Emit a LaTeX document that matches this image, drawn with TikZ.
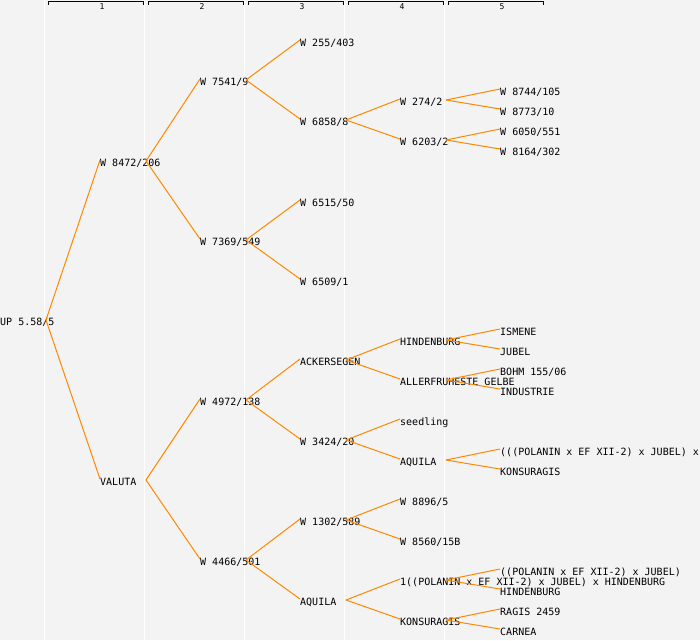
\documentclass[tikz,border=0pt]{standalone}
\usepackage{fontspec}
\setmonofont{DejaVu Sans Mono}
\definecolor{bg}{HTML}{F3F3F3}
\definecolor{edgeor}{RGB}{255,136,0}
\begin{document}
\begin{tikzpicture}[x=1pt,y=-1pt,
  lbl/.style={anchor=west,inner sep=0pt,text height=8pt,text depth=0pt,font=\ttfamily\fontsize{10}{10}\selectfont,text=black},
  hdr/.style={inner sep=0pt,font=\ttfamily\fontsize{8}{8}\selectfont,text=black},
  edge/.style={draw=edgeor,line width=1pt},
  colline/.style={draw=white,line width=1.2pt},
  brk/.style={draw=black,line width=0.9pt}]
\fill[bg] (0,0) rectangle (700,640);
\useasboundingbox (0,0) rectangle (700,640);
% column separators
\foreach \cx in {44.5,144.5,244.5,344.5,444.5}{\draw[colline] (\cx,0) -- (\cx,640);}
% column headers
\foreach \i/\bx in {1/48,2/148,3/248,4/348,5/448}{
  \draw[brk] (\bx,4.5) -- (\bx,1.5) -- (\bx+95,1.5) -- (\bx+95,4.5);
  \node[hdr] (h\i) at (\bx+54,6.5) {\i};
}
% nodes
\node[lbl] (r) at (0,321) {UP 5.58/5};
\node[lbl] (a) at (100,162) {W 8472/206};
\node[lbl] (b) at (100,481) {VALUTA};
\node[lbl] (aa) at (200,81) {W 7541/9};
\node[lbl] (ab) at (200,241) {W 7369/549};
\node[lbl] (ba) at (200,401) {W 4972/138};
\node[lbl] (bb) at (200,561) {W 4466/501};
\node[lbl] (aaa) at (300,42) {W 255/403};
\node[lbl] (aab) at (300,121) {W 6858/8};
\node[lbl] (aba) at (300,202) {W 6515/50};
\node[lbl] (abb) at (300,281) {W 6509/1};
\node[lbl] (baa) at (300,361) {ACKERSEGEN};
\node[lbl] (bab) at (300,441) {W 3424/20};
\node[lbl] (bba) at (300,521) {W 1302/589};
\node[lbl] (bbb) at (300,601) {AQUILA};
\node[lbl] (aaba) at (400,101) {W 274/2};
\node[lbl] (aabb) at (400,141) {W 6203/2};
\node[lbl] (baaa) at (400,341) {HINDENBURG};
\node[lbl] (baab) at (400,381) {ALLERFRUHESTE GELBE};
\node[lbl] (baba) at (400,421) {seedling};
\node[lbl] (babb) at (400,461) {AQUILA};
\node[lbl] (bbaa) at (400,501) {W 8896/5};
\node[lbl] (bbab) at (400,541) {W 8560/15B};
\node[lbl] (bbba) at (400,581) {1((POLANIN x EF XII-2) x JUBEL) x HINDENBURG};
\node[lbl] (bbbb) at (400,621) {KONSURAGIS};
\node[lbl] (aabaa) at (500,91) {W 8744/105};
\node[lbl] (aabab) at (500,111) {W 8773/10};
\node[lbl] (aabba) at (500,131) {W 6050/551};
\node[lbl] (aabbb) at (500,151) {W 8164/302};
\node[lbl] (baaaa) at (500,331) {ISMENE};
\node[lbl] (baaab) at (500,351) {JUBEL};
\node[lbl] (baaba) at (500,371) {BOHM 155/06};
\node[lbl] (baabb) at (500,391) {INDUSTRIE};
\node[lbl] (babba) at (500,451) {(((POLANIN x EF XII-2) x JUBEL) x};
\node[lbl] (babbb) at (500,471) {KONSURAGIS};
\node[lbl] (bbbaa) at (500,571) {((POLANIN x EF XII-2) x JUBEL)};
\node[lbl] (bbbab) at (500,591) {HINDENBURG};
\node[lbl] (bbbba) at (500,611) {RAGIS 2459};
\node[lbl] (bbbbb) at (500,631) {CARNEA};
% connectors
\foreach \p/\c in {r/a,r/b,a/aa,a/ab,b/ba,b/bb,aa/aaa,aa/aab,ab/aba,ab/abb,
  ba/baa,ba/bab,bb/bba,bb/bbb,aab/aaba,aab/aabb,baa/baaa,baa/baab,bab/baba,bab/babb,
  bba/bbaa,bba/bbab,bbb/bbba,bbb/bbbb,aaba/aabaa,aaba/aabab,aabb/aabba,aabb/aabbb,
  baaa/baaaa,baaa/baaab,baab/baaba,baab/baabb,babb/babba,babb/babbb,
  bbba/bbbaa,bbba/bbbab,bbbb/bbbba,bbbb/bbbbb}{
  \draw[edge] (\p.west) ++(46,-1) -- ([yshift=2pt]\c.west);
}
\end{tikzpicture}
\end{document}
